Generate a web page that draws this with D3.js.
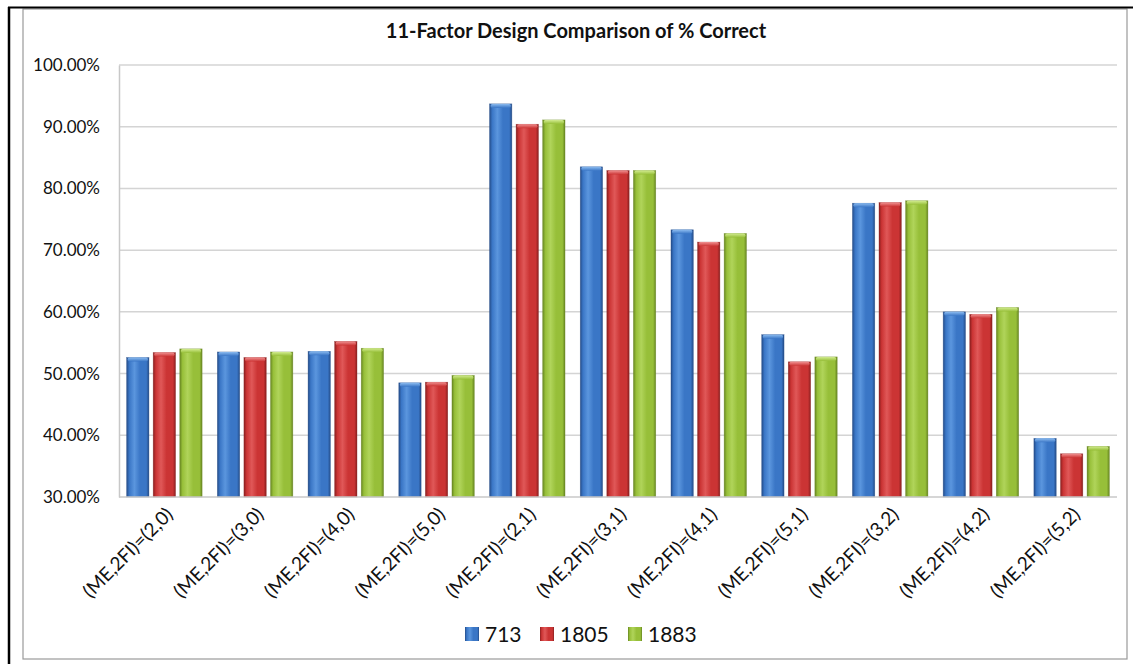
<!DOCTYPE html>
<html>
<head>
<meta charset="utf-8">
<script src="https://cdn.jsdelivr.net/npm/d3@7"></script>
<style>
  html, body { margin: 0; padding: 0; background: #fff; }
  svg { display: block; }
  text { font-family: Lato, "Open Sans", sans-serif; fill: #111; }
</style>
</head>
<body>
<svg id="chart" width="1133" height="664"></svg>
<script>
// Design categories along the x axis
const categories = [
  "(ME,2FI)=(2,0)", "(ME,2FI)=(3,0)", "(ME,2FI)=(4,0)", "(ME,2FI)=(5,0)",
  "(ME,2FI)=(2,1)", "(ME,2FI)=(3,1)", "(ME,2FI)=(4,1)", "(ME,2FI)=(5,1)",
  "(ME,2FI)=(3,2)", "(ME,2FI)=(4,2)", "(ME,2FI)=(5,2)"
];
// Series names (legend)
const seriesNames = ["713", "1805", "1883"];
// Percent correct per series
const values713  = [52.6, 53.5, 53.6, 48.5, 93.7, 83.5, 73.3, 56.3, 77.6, 60.0, 39.5];
const values1805 = [53.4, 52.6, 55.2, 48.6, 90.4, 82.9, 71.3, 51.9, 77.7, 59.6, 37.0];
const values1883 = [54.0, 53.5, 54.1, 49.7, 91.1, 82.9, 72.7, 52.7, 78.0, 60.7, 38.2];
// Y axis ticks
const yTicks = [30, 40, 50, 60, 70, 80, 90, 100];
const seriesValues = [values713, values1805, values1883];

const colors = [
  { dark: "#244c88", mid: "#3a76c6", light: "#5b96de", cap: "#8cbcf0" },
  { dark: "#8a1f1f", mid: "#cb3434", light: "#e05858", cap: "#f09090" },
  { dark: "#678622", mid: "#97bf39", light: "#b0d45a", cap: "#d2ec90" }
];

const svg = d3.select("#chart");
const W = 1133, H = 664;

// Outer frame
svg.append("rect").attr("x", 23).attr("y", 9).attr("width", 1104).attr("height", 650)
  .attr("fill", "#fff").attr("stroke", "#9a9a9a").attr("stroke-width", 1.2);
svg.append("line").attr("x1", 8).attr("x2", W).attr("y1", 7.5).attr("y2", 7.5)
  .attr("stroke", "#000").attr("stroke-width", 2);
svg.append("line").attr("x1", 9).attr("x2", 9).attr("y1", 7).attr("y2", H)
  .attr("stroke", "#000").attr("stroke-width", 2.5);

const plot = { left: 119, right: 1117, top: 65, bottom: 497 };

const y = d3.scaleLinear().domain([30, 100]).range([plot.bottom, plot.top]);
const x0 = d3.scaleBand().domain(categories).range([plot.left, plot.right]).padding(0);
const x1 = d3.scaleBand().domain(seriesNames)
  .range([x0.bandwidth() * 0.084, x0.bandwidth() * 0.916]).paddingInner(0.16).paddingOuter(0);

// Gradients for the bevelled bars
const defs = svg.append("defs");
colors.forEach((c, i) => {
  const g = defs.append("linearGradient").attr("id", "bar" + i)
    .attr("x1", "0%").attr("x2", "100%").attr("y1", "0%").attr("y2", "0%");
  [[0, c.dark], [0.12, c.mid], [0.35, c.light], [0.6, c.mid], [0.88, c.mid], [1, c.dark]]
    .forEach(([o, col]) => g.append("stop").attr("offset", o).attr("stop-color", col));
  const cg = defs.append("linearGradient").attr("id", "cap" + i)
    .attr("x1", "0%").attr("x2", "0%").attr("y1", "0%").attr("y2", "100%");
  [[0, c.cap], [1, c.mid]].forEach(([o, col]) => cg.append("stop").attr("offset", o).attr("stop-color", col));
});

// Gridlines
svg.append("g").selectAll("line").data(yTicks.filter(t => t > 30)).join("line")
  .attr("x1", plot.left).attr("x2", plot.right)
  .attr("y1", d => y(d)).attr("y2", d => y(d))
  .attr("stroke", "#d4d4d4").attr("stroke-width", 1.5);

// Y axis
const yAxis = d3.axisLeft(y).tickValues(yTicks).tickSize(0).tickPadding(19)
  .tickFormat(d => d.toFixed(2) + "%");
const gy = svg.append("g").attr("transform", `translate(${plot.left},0)`).call(yAxis);
gy.select(".domain").attr("stroke", "#c8c8c8").attr("stroke-width", 1.5);
gy.selectAll("text").style("font-size", "17px").attr("fill", "#111");

// Bars
const groups = svg.append("g").selectAll("g").data(categories).join("g")
  .attr("transform", d => `translate(${x0(d)},0)`);

groups.each(function (cat, ci) {
  const g = d3.select(this);
  seriesNames.forEach((s, si) => {
    const v = seriesValues[si][ci];
    const bx = x1(s), bw = x1.bandwidth();
    const top = y(v);
    g.append("rect").attr("x", bx).attr("y", top).attr("width", bw)
      .attr("height", y(30) - top).attr("fill", `url(#bar${si})`)
      .attr("stroke", colors[si].dark).attr("stroke-width", 0.6).attr("stroke-opacity", 0.6);
    g.append("rect").attr("x", bx + 1).attr("y", top).attr("width", bw - 2)
      .attr("height", 4).attr("rx", 2).attr("fill", `url(#cap${si})`);
  });
});

// X axis baseline
svg.append("line").attr("x1", plot.left).attr("x2", plot.right)
  .attr("y1", plot.bottom).attr("y2", plot.bottom)
  .attr("stroke", "#c8c8c8").attr("stroke-width", 1.5);

// X axis labels, rotated
svg.append("g").selectAll("text").data(categories).join("text")
  .attr("transform", d => `translate(${x0(d) + x0.bandwidth() / 2 + 5},${plot.bottom + 14}) rotate(-45)`)
  .attr("text-anchor", "end")
  .attr("dy", "0.35em")
  .style("font-size", "19px")
  .text(d => d);

// Title
svg.append("text").attr("x", 576).attr("y", 38).attr("text-anchor", "middle")
  .style("font-size", "20px").style("font-weight", "bold").text("11-Factor Design Comparison of % Correct");

// Legend
const legendX = [465, 540, 628];
const legend = svg.append("g").selectAll("g").data(seriesNames).join("g")
  .attr("transform", (d, i) => `translate(${legendX[i]},634)`);
legend.append("rect").attr("x", 0).attr("y", -7).attr("width", 14).attr("height", 14)
  .attr("fill", (d, i) => `url(#bar${i})`);
legend.append("text").attr("x", 20).attr("dy", "0.36em").style("font-size", "21px").text(d => d);
</script>
</body>
</html>
